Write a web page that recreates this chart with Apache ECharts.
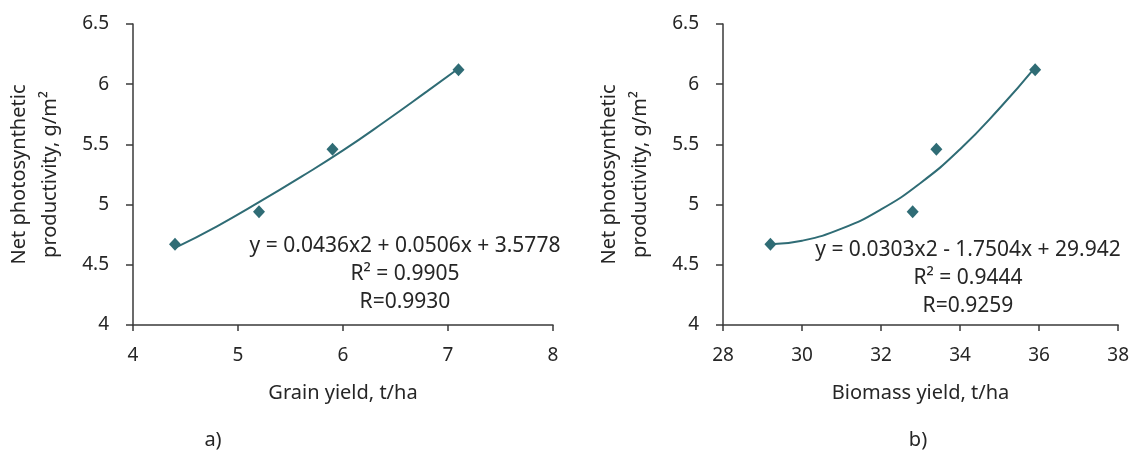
<!DOCTYPE html>
<html>
<head>
<meta charset="utf-8">
<script src="https://cdn.jsdelivr.net/npm/echarts@6/dist/echarts.min.js"></script>
<style>html,body{margin:0;padding:0;background:#fff;}#c{width:1132px;height:455px;}</style>
</head>
<body>
<div id="c"></div>
<script>
// Observed points
const grainX = [4.4, 5.2, 5.9, 7.1];
const grainY = [4.67, 4.94, 5.46, 6.12];
const biomassX = [29.2, 32.8, 33.4, 35.9];
const biomassY = [4.67, 4.94, 5.46, 6.12];
// Trendline points
const grainTrendX = [4.4, 4.8, 5.2, 5.6, 6.0, 6.4, 6.8, 7.1];
const grainTrendY = [4.64, 4.82, 5.02, 5.23, 5.45, 5.69, 5.94, 6.13];
const bioTrendX = [29.2, 30, 31, 32, 33, 34, 35, 35.9];
const bioTrendY = [4.67, 4.70, 4.80, 4.96, 5.18, 5.46, 5.80, 6.14];
// Texts
const eqA = ['y = 0.0436x2 + 0.0506x + 3.5778', 'R² = 0.9905', 'R=0.9930'];
const eqB = ['y = 0.0303x2 - 1.7504x + 29.942', 'R² = 0.9444', 'R=0.9259'];
const yName = 'Net photosynthetic\nproductivity, g/m²';

const FONT = 'Noto Sans';
const FS = 19;      // tick labels
const FN = 20;      // axis names
const FE = 21;      // equation text
const TXT = '#262626';
const AX = '#3a3a3a';
const C = '#2f6c75';

function zip(a, b) { return a.map((v, i) => [v, b[i]]); }

function xAxis(idx, min, max, interval, name) {
  return {
    type: 'value', gridIndex: idx, min: min, max: max, interval: interval,
    name: name, nameLocation: 'middle', nameGap: 58,
    nameTextStyle: {fontFamily: FONT, fontSize: FN, color: TXT},
    axisLine: {show: true, lineStyle: {color: AX, width: 1.5}},
    axisTick: {show: true, length: 6, lineStyle: {color: AX, width: 1.5}},
    axisLabel: {fontFamily: FONT, fontSize: FS, color: TXT, margin: 21},
    splitLine: {show: false}
  };
}
function yAxis(idx) {
  return {
    type: 'value', gridIndex: idx, min: 4, max: 6.5, interval: 0.5,
    name: yName, nameLocation: 'middle', nameGap: 67, nameRotate: 90,
    nameTextStyle: {fontFamily: FONT, fontSize: FN, color: TXT, lineHeight: 31},
    axisLine: {show: true, lineStyle: {color: AX, width: 1.5}},
    axisTick: {show: true, length: 7, lineStyle: {color: AX, width: 1.5}},
    axisLabel: {fontFamily: FONT, fontSize: FS, color: TXT, margin: 24},
    splitLine: {show: false}
  };
}
function txt(t, x, y, fs) {
  return {
    type: 'text', x: x, y: y,
    style: {text: t, fill: TXT, font: fs + 'px "' + FONT + '"', textAlign: 'center', textVerticalAlign: 'middle'}
  };
}
function eqText(lines, cx, y0) {
  return lines.map((t, i) => txt(t, cx, y0 + i * 28, FE));
}

const chart = echarts.init(document.getElementById('c'));
chart.setOption({
  animation: false,
  grid: [
    {left: 133, top: 24, width: 420, height: 301},
    {left: 723, top: 24, width: 395.5, height: 301}
  ],
  xAxis: [xAxis(0, 4, 8, 1, 'Grain yield, t/ha'), xAxis(1, 28, 38, 2, 'Biomass yield, t/ha')],
  yAxis: [yAxis(0), yAxis(1)],
  series: [
    {type: 'line', xAxisIndex: 0, yAxisIndex: 0, data: zip(grainTrendX, grainTrendY), smooth: true, showSymbol: false, lineStyle: {color: C, width: 2}, z: 2},
    {type: 'scatter', xAxisIndex: 0, yAxisIndex: 0, data: zip(grainX, grainY), symbol: 'diamond', symbolSize: [12, 13], itemStyle: {color: C, opacity: 1}, z: 3},
    {type: 'line', xAxisIndex: 1, yAxisIndex: 1, data: zip(bioTrendX, bioTrendY), smooth: true, showSymbol: false, lineStyle: {color: C, width: 2}, z: 2},
    {type: 'scatter', xAxisIndex: 1, yAxisIndex: 1, data: zip(biomassX, biomassY), symbol: 'diamond', symbolSize: [12, 13], itemStyle: {color: C, opacity: 1}, z: 3}
  ],
  graphic: [].concat(
    eqText(eqA, 405, 246),
    eqText(eqB, 968, 250),
    [txt('a)', 213, 440, FN), txt('b)', 918, 440, FN)]
  )
});
</script>
</body>
</html>
